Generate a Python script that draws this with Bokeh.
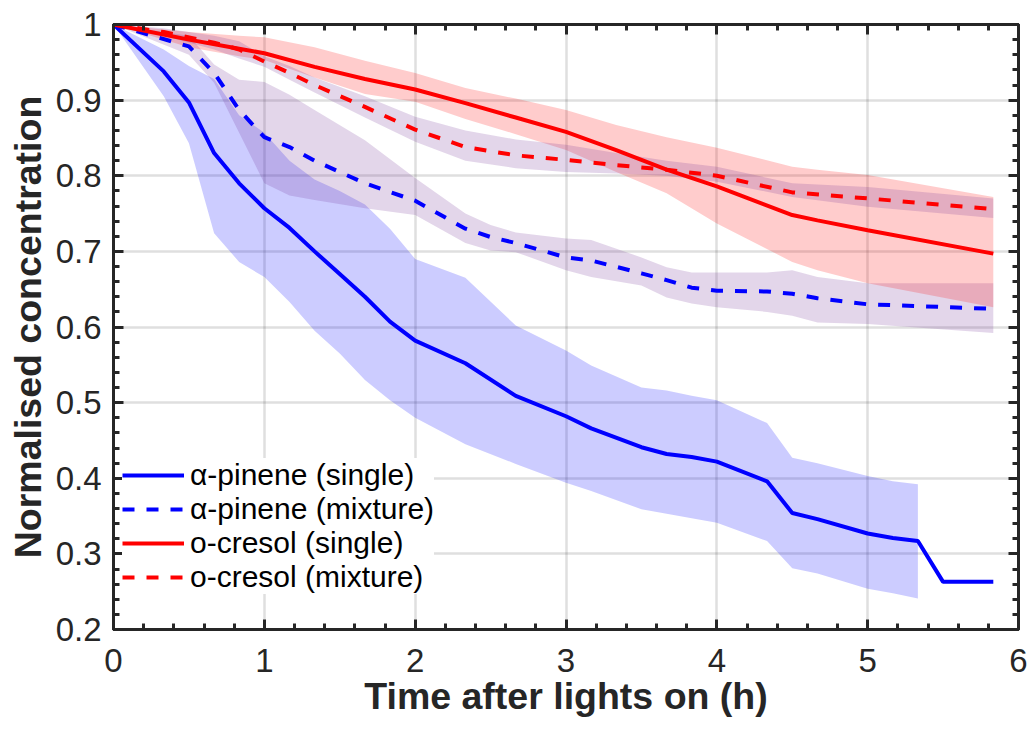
from bokeh.plotting import figure
from bokeh.models import (FixedTicker, CustomJSTickFormatter, LinearAxis, Range1d)
from bokeh.embed import file_html
from bokeh.resources import INLINE
import numpy as np

# ---------------- data ----------------
# alpha-pinene, single experiment
t_ap_s = [0, 0.333, 0.5, 0.667, 0.833, 1.0, 1.167, 1.333, 1.5, 1.667, 1.833, 2.0, 2.333, 2.667,
          3.0, 3.167, 3.5, 3.667, 3.833, 4.0, 4.333, 4.5, 4.667, 5.0, 5.167, 5.333, 5.5, 5.833]
ap_s = [1.0, 0.938, 0.897, 0.830, 0.790, 0.757, 0.731, 0.700, 0.670, 0.640, 0.607, 0.582, 0.552, 0.509,
        0.482, 0.466, 0.441, 0.432, 0.428, 0.422, 0.396, 0.354, 0.346, 0.327, 0.321, 0.317, 0.263, 0.263]
t_ap_s_band = [0, 0.333, 0.5, 0.667, 0.833, 1.0, 1.167, 1.333, 1.5, 1.667, 1.833, 2.0, 2.333, 2.667,
               3.0, 3.167, 3.5, 3.667, 3.833, 4.0, 4.333, 4.5, 4.667, 5.0, 5.167, 5.333]
ap_s_hi = [1.0, 0.967, 0.945, 0.928, 0.880, 0.857, 0.820, 0.795, 0.780, 0.762, 0.730, 0.690, 0.665, 0.602,
           0.569, 0.549, 0.520, 0.516, 0.509, 0.503, 0.473, 0.427, 0.420, 0.403, 0.396, 0.392]
ap_s_lo = [1.0, 0.905, 0.843, 0.724, 0.686, 0.666, 0.633, 0.595, 0.565, 0.530, 0.503, 0.480, 0.445, 0.419,
           0.394, 0.383, 0.359, 0.353, 0.347, 0.341, 0.317, 0.281, 0.274, 0.254, 0.248, 0.241]

# alpha-pinene, mixture experiment
t_ap_m = [0, 0.5, 0.667, 0.833, 1.0, 1.167, 1.333, 1.667, 2.0, 2.333, 2.5, 2.667, 3.0, 3.167,
          3.5, 3.667, 3.833, 4.0, 4.333, 4.5, 4.667, 5.0, 5.833]
ap_m = [1.0, 0.971, 0.936, 0.887, 0.851, 0.838, 0.820, 0.790, 0.767, 0.730, 0.719, 0.711, 0.692, 0.688,
        0.671, 0.662, 0.652, 0.648, 0.647, 0.644, 0.638, 0.630, 0.624]
ap_m_hi = [1.0, 0.985, 0.947, 0.927, 0.924, 0.907, 0.887, 0.847, 0.797, 0.750, 0.735, 0.725, 0.717, 0.715,
           0.692, 0.679, 0.672, 0.672, 0.672, 0.675, 0.666, 0.658, 0.658]
ap_m_lo = [1.0, 0.960, 0.923, 0.857, 0.790, 0.774, 0.768, 0.757, 0.748, 0.711, 0.701, 0.699, 0.675, 0.666,
           0.655, 0.639, 0.631, 0.626, 0.620, 0.615, 0.606, 0.604, 0.592]

# o-cresol, single experiment
t_oc_s = [0, 0.5, 0.833, 1.0, 1.333, 1.667, 2.0, 2.333, 2.667, 3.0, 3.333, 3.667, 4.0, 4.5, 4.667, 5.0, 5.833]
oc_s = [1.0, 0.980, 0.968, 0.962, 0.944, 0.928, 0.914, 0.896, 0.877, 0.858, 0.834, 0.808, 0.786, 0.748,
        0.741, 0.728, 0.697]
oc_s_hi = [1.0, 0.990, 0.985, 0.983, 0.970, 0.952, 0.936, 0.916, 0.902, 0.887, 0.867, 0.851, 0.837, 0.812,
           0.808, 0.801, 0.772]
oc_s_lo = [1.0, 0.970, 0.958, 0.953, 0.930, 0.908, 0.898, 0.875, 0.855, 0.834, 0.805, 0.777, 0.737, 0.686,
           0.675, 0.658, 0.626]

# o-cresol, mixture experiment
t_oc_m = [0, 0.333, 0.667, 0.833, 1.0, 1.167, 1.333, 1.667, 2.0, 2.333, 2.667, 3.0, 3.333, 3.667, 4.0,
          4.5, 5.0, 5.833]
oc_m = [1.0, 0.990, 0.976, 0.967, 0.951, 0.936, 0.920, 0.891, 0.861, 0.838, 0.827, 0.821, 0.814, 0.808,
        0.800, 0.778, 0.770, 0.756]
oc_m_hi = [1.0, 0.995, 0.985, 0.978, 0.958, 0.945, 0.930, 0.905, 0.878, 0.860, 0.848, 0.841, 0.830, 0.820,
           0.812, 0.790, 0.785, 0.770]
oc_m_lo = [1.0, 0.985, 0.967, 0.955, 0.944, 0.927, 0.910, 0.877, 0.845, 0.820, 0.810, 0.805, 0.803, 0.800,
           0.792, 0.772, 0.759, 0.744]

series_labels = ["\u03b1-pinene (single)", "\u03b1-pinene (mixture)", "o-cresol (single)", "o-cresol (mixture)"]

x_ticks = [0, 1, 2, 3, 4, 5, 6]
x_tick_labels = ["0", "1", "2", "3", "4", "5", "6"]
y_ticks = [0.2, 0.3, 0.4, 0.5, 0.6, 0.7, 0.8, 0.9, 1.0]
y_tick_labels = ["0.2", "0.3", "0.4", "0.5", "0.6", "0.7", "0.8", "0.9", "1"]

# ---------------- styling ----------------
BLUE = "#0000ff"
RED = "#ff0000"
PURPLE = "#733296"
AX = "#262626"
FONT = "Liberation Sans"

p = figure(width=1027, height=729, x_range=Range1d(0, 6), y_range=Range1d(0.2, 1),
           output_backend="svg", toolbar_location=None,
           min_border_left=113, min_border_right=9, min_border_top=24, min_border_bottom=100)
p.background_fill_color = "white"
p.border_fill_color = "white"
p.outline_line_color = AX
p.outline_line_width = 3

x_minor = [float(v) for v in np.round(np.arange(0, 6.0001, 0.2), 4)]
y_minor = [float(v) for v in np.round(np.arange(0.2, 1.0001, 0.02), 4)]
xt = FixedTicker(ticks=x_ticks, minor_ticks=x_minor)
yt = FixedTicker(ticks=y_ticks, minor_ticks=y_minor)

fmt_code = """
let best = 0, d = Infinity;
for (let i = 0; i < tv.length; i++) { const e = Math.abs(tv[i] - tick); if (e < d) { d = e; best = i; } }
return lb[best];
"""
xfmt = CustomJSTickFormatter(args=dict(tv=x_ticks, lb=x_tick_labels), code=fmt_code)
yfmt = CustomJSTickFormatter(args=dict(tv=y_ticks, lb=y_tick_labels), code=fmt_code)
blank = CustomJSTickFormatter(code="return '';")

def style_axis(ax):
    ax.axis_line_color = AX
    ax.axis_line_width = 3
    ax.major_tick_line_color = AX
    ax.minor_tick_line_color = AX
    ax.major_tick_line_width = 3
    ax.minor_tick_line_width = 3
    ax.major_tick_in = 10
    ax.major_tick_out = 0
    ax.minor_tick_in = 6
    ax.minor_tick_out = 0
    ax.major_label_text_font = FONT
    ax.major_label_text_font_size = "33px"
    ax.major_label_text_color = AX
    ax.axis_label_text_font = FONT
    ax.axis_label_text_font_size = "37.5px"
    ax.axis_label_text_font_style = "bold"
    ax.axis_label_text_color = AX

xa = p.xaxis[0]
ya = p.yaxis[0]
xa.ticker = xt
ya.ticker = yt
xa.formatter = xfmt
ya.formatter = yfmt
style_axis(xa)
style_axis(ya)
xa.axis_label = "Time after lights on (h)"
ya.axis_label = "Normalised concentration"
xa.major_label_standoff = 19
ya.major_label_standoff = 12
xa.axis_label_standoff = 0
ya.axis_label_standoff = 4

ra = LinearAxis(ticker=yt, formatter=blank)
ta = LinearAxis(ticker=xt, formatter=blank)
style_axis(ra)
style_axis(ta)
ra.major_label_standoff = 0
ta.major_label_standoff = 0
p.add_layout(ra, "right")
p.add_layout(ta, "above")

p.xgrid.ticker = xt
p.ygrid.ticker = yt
for g in (p.xgrid[0], p.ygrid[0]):
    g.grid_line_color = AX
    g.grid_line_alpha = 0.15
    g.grid_line_width = 2.5

# shaded ranges
p.varea(x=t_ap_s_band, y1=ap_s_lo, y2=ap_s_hi, fill_color=BLUE, fill_alpha=0.2)
p.varea(x=t_ap_m, y1=ap_m_lo, y2=ap_m_hi, fill_color=PURPLE, fill_alpha=0.2)
p.varea(x=t_oc_s, y1=oc_s_lo, y2=oc_s_hi, fill_color=RED, fill_alpha=0.2)
p.varea(x=t_oc_m, y1=oc_m_lo, y2=oc_m_hi, fill_color=PURPLE, fill_alpha=0.2)

# mean lines
DASH = "12 12"
p.line(t_ap_s, ap_s, line_color=BLUE, line_width=4, legend_label=series_labels[0])
p.line(t_ap_m, ap_m, line_color=BLUE, line_width=4, line_dash=DASH, legend_label=series_labels[1])
p.line(t_oc_s, oc_s, line_color=RED, line_width=4, legend_label=series_labels[2])
p.line(t_oc_m, oc_m, line_color=RED, line_width=4, line_dash=DASH, legend_label=series_labels[3])

lg = p.legend[0]
lg.location = (9, 35)
lg.border_line_color = None
lg.background_fill_color = "white"
lg.background_fill_alpha = 1.0
lg.padding = 4
lg.margin = 0
lg.spacing = 0
lg.glyph_width = 62
lg.glyph_height = 30
lg.label_height = 30
lg.label_standoff = 6
lg.label_text_font = FONT
lg.label_text_font_size = "30px"
lg.label_text_color = "black"

open("out.html", "w").write(file_html(p, INLINE))
